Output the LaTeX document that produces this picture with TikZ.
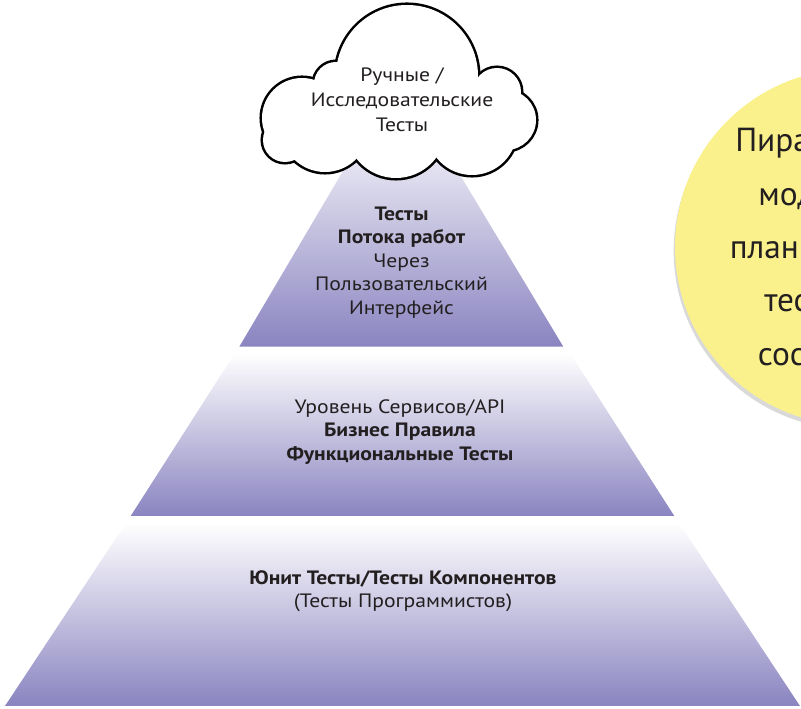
\documentclass[tikz,border=0pt]{standalone}
\usepackage{fontspec}
\setmainfont{PT Sans}
\newfontfamily\pyrfont[FakeStretch=1.12]{PT Sans}
\usetikzlibrary{shadows}
\definecolor{pyrpurple}{RGB}{138,132,192}
\definecolor{noteyellow}{RGB}{250,241,140}
\definecolor{inkgrey}{RGB}{35,31,32}

\begin{document}
\begin{tikzpicture}[x=0.75pt,y=-0.75pt,
       tier/.style={top color=white,bottom color=pyrpurple},
       tiertext/.style={align=center,inner sep=0pt,text=inkgrey,
         font=\pyrfont\fontsize{14.5}{17.6}\selectfont},
       puffline/.style={draw=black,line width=3.8pt},
       notetext/.style={anchor=base west,inner sep=0pt,text=inkgrey,
         font=\fontsize{25}{30}\selectfont}]
    \useasboundingbox (0,0) rectangle (801,709);
    \clip (0,0) rectangle (801,709);
    % yellow note, cut by the right edge
    \fill[noteyellow,drop shadow={shadow xshift=-1pt,shadow yshift=-3pt,opacity=.3}]
      (853,247) circle (178);
    \node[notetext] (note1) at (735,152) {Пира};
    \node[notetext] (note2) at (758,205.5) {мод};
    \node[notetext] (note3) at (729.5,259) {план};
    \node[notetext] (note4) at (764,312) {тес};
    \node[notetext] (note5) at (757.5,365.5) {сос};
    % pyramid
    \shade[tier] (379,110) -- (421,110) -- (563.3,346.7) -- (239.3,346.7) -- cycle;
    \shade[tier] (235,353) -- (570,353) -- (674.3,516) -- (130.7,516) -- cycle;
    \shade[tier] (126,523) -- (679,523) -- (800,706) -- (5,706) -- cycle;
    % cloud
    \foreach \cx/\cy/\r in {407/76/71,336/84/22,302/118/40,497/92/24,506/120/30,
                            325/128/44,396/128/50,472/130/45,285/140/22}
      \draw[puffline] (\cx,\cy) circle (\r);
    \foreach \cx/\cy/\r in {407/76/71,336/84/22,302/118/40,497/92/24,506/120/30,
                            325/128/44,396/128/50,472/130/45,285/140/22}
      \fill[white] (\cx,\cy) circle (\r);
    \node[tiertext,font=\pyrfont\fontsize{14.5}{18.75}\selectfont] (manual) at (402,100)
      {Ручные /\\Исследовательские\\Тесты};
    % tier labels
    \node[tiertext] (uiflow) at (401.5,262.5)
      {\textbf{Тесты}\\\textbf{Потока работ}\\Через\\Пользовательский\\Интерфейс};
    \node[tiertext] (service) at (400,432)
      {Уровень Сервисов/API\\\textbf{Бизнес Правила}\\\textbf{Функциональные Тесты}};
    \node[tiertext] (unit) at (403,591)
      {\textbf{Юнит Тесты/Тесты Компонентов}\\(Тесты Программистов)};
\end{tikzpicture}
\end{document}
